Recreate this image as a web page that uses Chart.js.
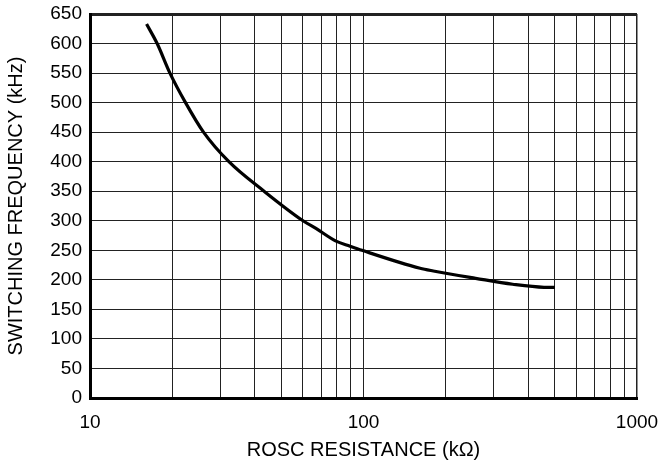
<!DOCTYPE html>
<html>
<head>
<meta charset="utf-8">
<script src="https://cdn.jsdelivr.net/npm/chart.js@4"></script>
<style>
  body { margin: 0; background: #fff; }
</style>
</head>
<body>
<canvas id="freqchart" width="661" height="464"></canvas>
<script>
// values (kOhm, kHz)
const resistance = [16.1, 17.6, 19.6, 22.35, 26.0, 32.2, 43.3, 60.1, 67, 79, 89.3, 98.7, 161, 180, 257, 351, 457, 501];
const frequency = [633, 600, 550, 500, 450, 400, 350, 300, 287, 266, 257, 250, 219.6, 215, 202.6, 192.5, 187.4, 187.3];

// grid lines of the log axis
const xGrid = [10, 20, 30, 40, 50, 60, 70, 80, 90, 100, 200, 300, 400, 500, 600, 700, 800, 900, 1000];
const xLabels = [10, 100, 1000];

const points = resistance.map((r, i) => ({ x: r, y: frequency[i] }));

const ctx = document.getElementById('freqchart').getContext('2d');

const myChart = new Chart(ctx, {
    type: 'line',
    data: {
        datasets: [
            {
                label: 'fsw',
                data: points,
                borderColor: '#000',
                borderWidth: 3.2,
                pointRadius: 0,
                cubicInterpolationMode: 'monotone',
                fill: false,
            },
        ],
    },
    options: {
        responsive: false,
        animation: false,
        layout: {
            padding: { top: 14, right: 24, left: 0, bottom: 0 }
        },
        plugins: {
            legend: { display: false },
            tooltip: { enabled: false },
        },
        scales: {
            x: {
                type: 'logarithmic',
                min: 10,
                max: 1000,
                afterBuildTicks: (axis) => {
                    axis.ticks = xGrid.map(v => ({ value: v }));
                },
                afterFit: (axis) => {
                    axis.height = 66;
                    axis.paddingLeft = 0;
                    axis.paddingRight = 0;
                },
                ticks: {
                    autoSkip: false,
                    maxRotation: 0,
                    padding: 13,
                    color: '#000',
                    font: { family: 'Liberation Sans, Arial, sans-serif', size: 19 },
                    callback: (v) => xLabels.includes(v) ? String(v) : '',
                },
                grid: {
                    color: '#222',
                    lineWidth: (c) => c.tick && c.tick.value === 1000 ? 1.5 : 1,
                    drawTicks: false,
                },
                border: { color: '#000', width: 3 },
                title: {
                    display: true,
                    text: 'ROSC RESISTANCE (kΩ)',
                    color: '#000',
                    font: { family: 'Liberation Sans, Arial, sans-serif', size: 20 },
                    padding: { top: 0, bottom: 2 },
                },
            },
            y: {
                min: 0,
                max: 650,
                afterFit: (axis) => {
                    axis.width = 90;
                    axis.paddingTop = 0;
                    axis.paddingBottom = 0;
                },
                ticks: {
                    stepSize: 50,
                    padding: 8,
                    color: '#000',
                    font: { family: 'Liberation Sans, Arial, sans-serif', size: 19 },
                },
                grid: {
                    color: '#222',
                    lineWidth: (c) => c.tick && c.tick.value === 650 ? 3 : 1,
                    drawTicks: false,
                },
                border: { color: '#000', width: 3 },
                title: {
                    display: true,
                    text: 'SWITCHING FREQUENCY (kHz)',
                    color: '#000',
                    font: { family: 'Liberation Sans, Arial, sans-serif', size: 20 },
                    padding: { top: 4, bottom: 0 },
                },
            },
        },
    },
});
</script>
</body>
</html>
